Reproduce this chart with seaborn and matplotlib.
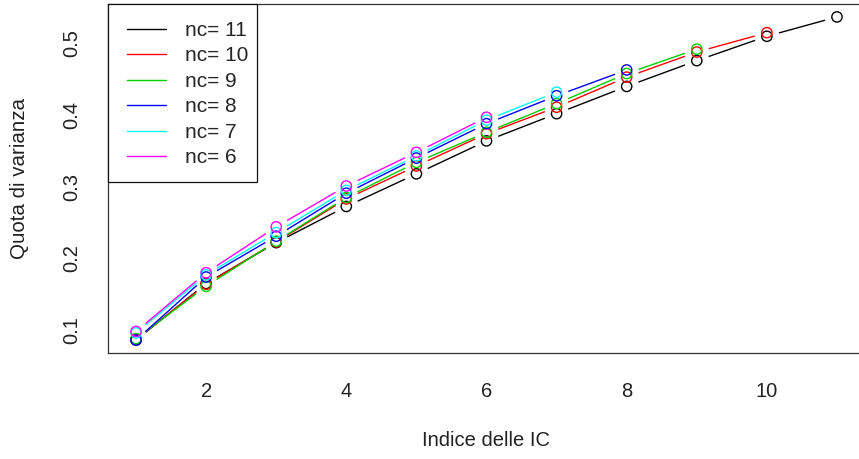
import numpy as np
import pandas as pd
import matplotlib
matplotlib.use("Agg")
import matplotlib.pyplot as plt
from matplotlib.lines import Line2D
from matplotlib.patches import Rectangle
import seaborn as sns

# ---- data ----
nc_labels = ["nc= 11", "nc= 10", "nc= 9", "nc= 8", "nc= 7", "nc= 6"]
colors = ["#000000", "#FF0000", "#00CD00", "#0000FF", "#00FFFF", "#FF00FF"]
v_nc11 = [0.086, 0.165, 0.222, 0.2725, 0.318, 0.364, 0.402, 0.440, 0.476, 0.510, 0.537]
v_nc10 = [0.087, 0.164, 0.223, 0.283, 0.329, 0.374, 0.411, 0.453, 0.488, 0.515]
v_nc9 = [0.088, 0.161, 0.224, 0.285, 0.334, 0.376, 0.416, 0.458, 0.492]
v_nc8 = [0.086, 0.174, 0.231, 0.291, 0.340, 0.388, 0.427, 0.463]
v_nc7 = [0.096, 0.177, 0.236, 0.295, 0.343, 0.393, 0.432]
v_nc6 = [0.098, 0.180, 0.244, 0.301, 0.348, 0.397]
series = [v_nc11, v_nc10, v_nc9, v_nc8, v_nc7, v_nc6]
x_ticks = [2, 4, 6, 8, 10]
y_ticks = [0.1, 0.2, 0.3, 0.4, 0.5]
x_label = "Indice delle IC"
y_label = "Quota di varianza"

rows = []
for lab, vals in zip(nc_labels, series):
    for i, v in enumerate(vals):
        rows.append({"serie": lab, "ic": i + 1, "quota": v})
df = pd.DataFrame(rows)

sns.set_style("white")
plt.rcParams["font.family"] = ["Liberation Sans", "DejaVu Sans"]

W, H = 859, 459
fig = plt.figure(figsize=(W / 100, H / 100), dpi=100)
left, right, top, bottom = 108, 865, 4, 353
aw, ah = right - left, bottom - top
ax = fig.add_axes([left / W, 1 - bottom / H, aw / W, ah / H])

# R-style 4% axis extension
xmin, xmax = df["ic"].min(), df["ic"].max()
ymin, ymax = df["quota"].min(), df["quota"].max()
dx, dy = (xmax - xmin) * 0.04, (ymax - ymin) * 0.04
ax.set_xlim(xmin - dx, xmax + dx)
ax.set_ylim(ymin - dy, ymax + dy)

fig.canvas.draw()
gap = 12.5  # pixels gap between line ends and points (R type="b")
for k, (lab, col) in enumerate(zip(nc_labels, colors)):
    sub = df[df["serie"] == lab]
    pts = ax.transData.transform(sub[["ic", "quota"]].to_numpy())
    inv = ax.transData.inverted()
    for a, b in zip(pts[:-1], pts[1:]):
        d = b - a
        L = np.hypot(*d)
        if L <= 2 * gap:
            continue
        u = d / L
        seg = inv.transform(np.vstack([a + u * gap, b - u * gap]))
        ax.plot(seg[:, 0], seg[:, 1], color=col, lw=1.0, zorder=2 + k,
                solid_capstyle="butt")
    sns.scatterplot(data=sub, x="ic", y="quota", ax=ax, marker="o",
                    s=(7.4) ** 2, facecolors="none", edgecolor=col,
                    linewidth=1.0, zorder=2 + k, legend=False)

ax.set_xticks(x_ticks)
ax.set_xticklabels([str(t) for t in x_ticks])
ax.set_yticks(y_ticks)
ax.set_yticklabels([f"{t:g}" for t in y_ticks], rotation=90, va="center")
ax.tick_params(axis="both", direction="out", length=9, width=0.8,
               color="#333333", labelsize=14.5, labelcolor="#222222")
ax.tick_params(axis="x", pad=12)
ax.tick_params(axis="y", pad=10)
for s in ax.spines.values():
    s.set_color("#333333")
    s.set_linewidth(0.9)

ax.set_xlabel(x_label, fontsize=14.5, color="#222222")
ax.set_ylabel(y_label, fontsize=14.8, color="#222222")
ax.xaxis.set_label_coords(0.5, -(441 - bottom) / ah)
ax.yaxis.set_label_coords(-(left - 20) / aw, 0.5)
ax.xaxis.label.set_va("center")
ax.yaxis.label.set_va("center")

# legend box (R-style, flush with the top-left corner)
ax.add_patch(Rectangle((0, 1 - (182 - top) / ah), (257 - left) / aw, (182 - top) / ah,
                       transform=ax.transAxes, facecolor="white",
                       edgecolor="#111111", lw=0.9, zorder=20, clip_on=False))
handles = [Line2D([0], [0], color=c, lw=1.0) for c in colors]
leg = ax.legend(handles, nc_labels, loc="upper left",
                bbox_to_anchor=((127 - left) / aw, 1 - (21 - top) / ah),
                borderaxespad=0, frameon=False, fontsize=15, handlelength=1.88,
                handletextpad=0.9, labelspacing=0.31, borderpad=0)
leg.set_zorder(21)

fig.savefig("out.png", dpi=100)
